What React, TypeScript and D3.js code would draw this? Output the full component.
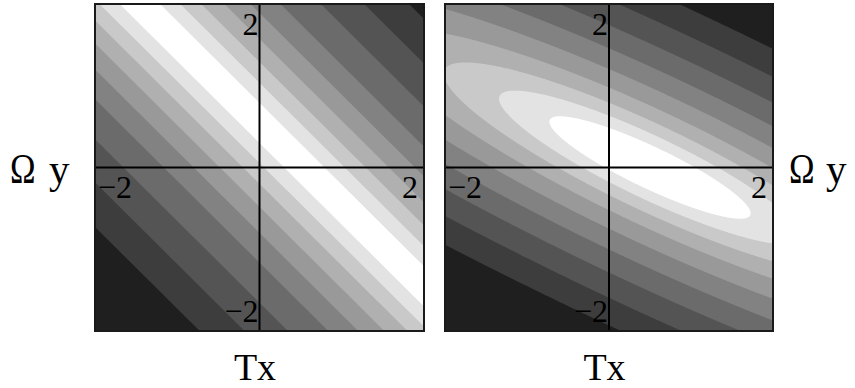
import React, { useEffect, useRef } from "react";
import * as d3 from "d3";

const W = 855;
const H = 388;

// shared axis domain and tick labels
const axisDomain = [-2.2, 2.2];
const tickValues = [-2, 2];
const tickLabels = ["\u22122", "2"];
const axisTitleX = ["T", "x"];
const axisTitleY = ["\u03A9", "y"];

// grey level of the 10 shaded bands, from the innermost (white) to the outermost
const bandGrays = [1.0, 0.89, 0.79, 0.69, 0.6, 0.51, 0.42, 0.33, 0.24, 0.12];

// left panel: straight ridge along Tx + Ωy = offset, band edges = distance |Tx + Ωy − offset|
const leftRidgeOffset = [0.6];
const leftBandEdges = [0.27, 0.54, 0.82, 1.13, 1.48, 1.88, 2.42, 3.0, 3.6];

// right panel: elongated elliptical peak (centre, semi-axes, tilt), band edges = ellipse scale
const rightCenter = [0.55, 0.0];
const rightSemiAxes = [1.49, 0.28];
const rightTiltDeg = [-25.5];
const rightBandEdges = [1, 1.5, 2.05, 2.7, 3.5, 4.4, 5.4, 6.5, 7.7];

const panels = [
  { id: "L", x0: 95, y0: 4, w: 329, h: 327, kind: "ridge", edges: leftBandEdges, titleDx: -4.5, side: "left" },
  { id: "R", x0: 445, y0: 4, w: 328, h: 327, kind: "ellipse", edges: rightBandEdges, titleDx: -4.5, side: "right" },
];

function grayColor(g: number) {
  const v = Math.round(g * 255);
  return d3.rgb(v, v, v).formatHex();
}

function distance(kind: string, x: number, y: number) {
  if (kind === "ridge") {
    return Math.abs(x + y - leftRidgeOffset[0]);
  }
  const t = (rightTiltDeg[0] * Math.PI) / 180;
  const dx = x - rightCenter[0];
  const dy = y - rightCenter[1];
  const u = dx * Math.cos(t) + dy * Math.sin(t);
  const v = -dx * Math.sin(t) + dy * Math.cos(t);
  return Math.sqrt((u / rightSemiAxes[0]) ** 2 + (v / rightSemiAxes[1]) ** 2);
}

export default function App() {
  const ref = useRef<SVGSVGElement | null>(null);

  useEffect(() => {
    const svg = d3.select(ref.current);
    svg.selectAll("*").remove();
    const defs = svg.append("defs");
    const font = "'Liberation Serif', 'Times New Roman', serif";

    panels.forEach((p) => {
      const xs = d3.scaleLinear().domain(axisDomain).range([p.x0, p.x0 + p.w]);
      const ys = d3.scaleLinear().domain(axisDomain).range([p.y0 + p.h, p.y0]);

      defs
        .append("clipPath")
        .attr("id", "clip" + p.id)
        .append("rect")
        .attr("x", p.x0)
        .attr("y", p.y0)
        .attr("width", p.w)
        .attr("height", p.h);

      const g = svg.append("g").attr("clip-path", `url(#clip${p.id})`);
      g.append("rect")
        .attr("x", p.x0)
        .attr("y", p.y0)
        .attr("width", p.w)
        .attr("height", p.h)
        .attr("fill", grayColor(bandGrays[bandGrays.length - 1]));

      const nx = Math.round(p.w);
      const ny = Math.round(p.h);
      const values: number[] = new Array(nx * ny);
      for (let j = 0; j < ny; j++) {
        for (let i = 0; i < nx; i++) {
          const x = xs.invert(p.x0 + i + 0.5);
          const y = ys.invert(p.y0 + j + 0.5);
          values[j * nx + i] = -distance(p.kind, x, y);
        }
      }
      const thresholds = p.edges.map((e) => -e).reverse();
      const contours = d3.contours().size([nx, ny]).thresholds(thresholds)(values);
      const path = d3.geoPath(d3.geoIdentity().translate([p.x0, p.y0]) as any);

      g.selectAll("path.band")
        .data(contours)
        .enter()
        .append("path")
        .attr("class", "band")
        .attr("d", (c: any) => path(c) as string)
        .attr("fill", (c: any) => {
          const k = p.edges.findIndex((e) => Math.abs(-e - c.value) < 1e-9);
          return grayColor(bandGrays[k]);
        })
        .attr("stroke", "none");

      // axes through the origin
      svg.append("line")
        .attr("x1", xs(0)).attr("x2", xs(0))
        .attr("y1", p.y0).attr("y2", p.y0 + p.h)
        .attr("stroke", "#000").attr("stroke-width", 2);
      svg.append("line")
        .attr("x1", p.x0).attr("x2", p.x0 + p.w)
        .attr("y1", ys(0)).attr("y2", ys(0))
        .attr("stroke", "#000").attr("stroke-width", 2);

      // frame
      svg.append("rect")
        .attr("x", p.x0).attr("y", p.y0)
        .attr("width", p.w).attr("height", p.h)
        .attr("fill", "none").attr("stroke", "#1a1a1a").attr("stroke-width", 2);

      // horizontal tick labels
      tickValues.forEach((v, i) => {
        svg.append("text")
          .attr("x", xs(v) + (v < 0 ? 5 : 1))
          .attr("y", ys(0) + 30)
          .attr("text-anchor", "middle")
          .attr("font-family", font)
          .attr("font-size", 32)
          .attr("fill", "#000")
          .text(tickLabels[i]);
      });
      // vertical tick labels
      tickValues.forEach((v, i) => {
        svg.append("text")
          .attr("x", xs(0) - 1)
          .attr("y", ys(v) + (v > 0 ? 16 : 6))
          .attr("text-anchor", "end")
          .attr("font-family", font)
          .attr("font-size", 32)
          .attr("fill", "#000")
          .text(tickLabels[i]);
      });

      // x title
      const tx = svg.append("text")
        .attr("x", xs(0) + p.titleDx)
        .attr("y", 380)
        .attr("text-anchor", "middle")
        .attr("font-family", font)
        .attr("font-size", 38)
        .attr("fill", "#000");
      tx.append("tspan").text(axisTitleX[0]);
      tx.append("tspan").text(axisTitleX[1]);

      // y title
      const oxStart = p.side === "left" ? 10 : 789;
      const yStart = p.side === "left" ? 49 : 826;
      svg.append("text")
        .attr("transform", `translate(${oxStart},183) scale(0.82,1)`)
        .attr("font-family", font)
        .attr("font-size", 42)
        .attr("fill", "#000")
        .text(axisTitleY[0]);
      svg.append("text")
        .attr("x", yStart)
        .attr("y", 183)
        .attr("font-family", font)
        .attr("font-size", 41)
        .attr("fill", "#000")
        .text(axisTitleY[1]);
    });
  }, []);

  return (
    <svg ref={ref} width={W} height={H} style={{ display: "block", position: "absolute", left: 0, top: 0, background: "#fff" }} />
  );
}
